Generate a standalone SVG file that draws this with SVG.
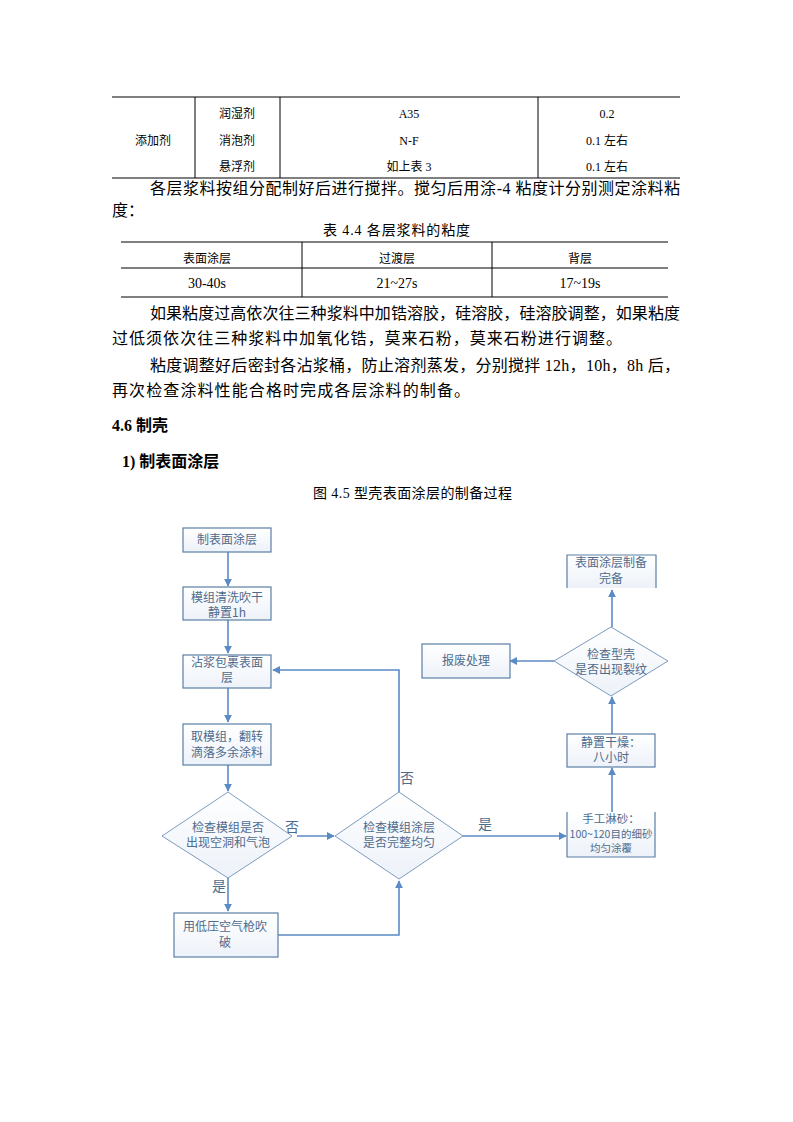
<svg xmlns="http://www.w3.org/2000/svg" width="793" height="1122" viewBox="0 0 793 1122">
<style>
.t{font-family:"Liberation Serif","Noto Sans CJK SC",serif;fill:#000}
.s12{font-size:12px}
.s14{font-size:14px}
.s16{font-size:16px}
.b{font-weight:bold}
.rule{stroke:#000;stroke-width:1;fill:none}
.box{fill:url(#g);stroke:#5a7fa6;stroke-width:1.2}
.dia{fill:url(#g);stroke:#7c9bbf;stroke-width:1}
.ft{font-family:"Noto Sans CJK SC","Noto Sans CJK JP",sans-serif;font-size:12px;fill:#4f6b8c;text-anchor:middle}
.lbl{font-family:"Noto Sans CJK SC",sans-serif;font-size:14px;fill:#4f6b8c;text-anchor:middle}
.con{stroke:#5b8bc5;stroke-width:1.6;fill:none}
</style>
<defs>
<linearGradient id="g" x1="0" y1="0" x2="0" y2="1">
<stop offset="0" stop-color="#ffffff"/>
<stop offset="1" stop-color="#edf2f9"/>
</linearGradient>
<marker id="ar" viewBox="0 0 10 10" refX="9" refY="5" markerWidth="5" markerHeight="5" orient="auto" markerUnits="strokeWidth">
<path d="M0,0 L10,5 L0,10 z" fill="#5b8bc5"/>
</marker>
</defs>
<rect width="793" height="1122" fill="#fff"/>

<!-- Top table -->
<g id="table1">
<line class="rule" x1="112" y1="97" x2="680" y2="97"/>
<line class="rule" x1="112" y1="178" x2="680" y2="178"/>
<line class="rule" x1="195" y1="97" x2="195" y2="178"/>
<line class="rule" x1="280" y1="97" x2="280" y2="178"/>
<line class="rule" x1="538" y1="97" x2="538" y2="178"/>
<g class="t s12" text-anchor="middle">
<text x="153" y="145">添加剂</text>
<text x="237" y="118">润湿剂</text>
<text x="237" y="145">消泡剂</text>
<text x="237" y="171">悬浮剂</text>
<text x="409" y="118">A35</text>
<text x="409" y="145">N-F</text>
<text x="409" y="171">如上表 3</text>
<text x="607" y="118">0.2</text>
<text x="607" y="145">0.1 左右</text>
<text x="607" y="171">0.1 左右</text>
</g>
</g>

<g id="para1" class="t s16">
<text x="150" y="194" textLength="530" lengthAdjust="spacing">各层浆料按组分配制好后进行搅拌。搅匀后用涂-4 粘度计分别测定涂料粘</text>
<text x="112" y="216">度：</text>
</g>

<text class="t s14" x="323" y="235" textLength="147" lengthAdjust="spacing">表 4.4  各层浆料的粘度</text>

<g id="table2">
<line class="rule" x1="121" y1="242" x2="668" y2="242"/>
<line class="rule" x1="121" y1="268" x2="668" y2="268"/>
<line class="rule" x1="121" y1="297" x2="668" y2="297"/>
<line class="rule" x1="302" y1="242" x2="302" y2="297"/>
<line class="rule" x1="492" y1="242" x2="492" y2="297"/>
<g class="t" text-anchor="middle">
<text class="s12" x="207" y="263">表面涂层</text>
<text class="s12" x="397" y="263">过渡层</text>
<text class="s12" x="580" y="263">背层</text>
<text class="s14" x="207" y="288">30-40s</text>
<text class="s14" x="397" y="288">21~27s</text>
<text class="s14" x="580" y="288">17~19s</text>
</g>
</g>

<g id="para2" class="t s16">
<text x="150" y="319" textLength="530" lengthAdjust="spacing">如果粘度过高依次往三种浆料中加锆溶胶，硅溶胶，硅溶胶调整，如果粘度</text>
<text x="112" y="344" textLength="510" lengthAdjust="spacing">过低须依次往三种浆料中加氧化锆，莫来石粉，莫来石粉进行调整。</text>
<text x="150" y="371" textLength="530" lengthAdjust="spacing">粘度调整好后密封各沾浆桶，防止溶剂蒸发，分别搅拌 12h，10h，8h 后，</text>
<text x="112" y="396" textLength="358" lengthAdjust="spacing">再次检查涂料性能合格时完成各层涂料的制备。</text>
<text class="b" x="112" y="431">4.6 制壳</text>
<text class="b" x="122" y="467">1) 制表面涂层</text>
</g>

<text class="t s14" x="313" y="498" textLength="199" lengthAdjust="spacing">图 4.5  型壳表面涂层的制备过程</text>

<!-- Connectors -->
<g id="connectors">
<line class="con" x1="228" y1="552" x2="228" y2="586" marker-end="url(#ar)"/>
<line class="con" x1="228" y1="620" x2="228" y2="653" marker-end="url(#ar)"/>
<line class="con" x1="228" y1="688" x2="228" y2="722" marker-end="url(#ar)"/>
<line class="con" x1="228" y1="765" x2="228" y2="791" marker-end="url(#ar)"/>
<line class="con" x1="297" y1="836" x2="334" y2="836" marker-end="url(#ar)" stroke="#a9c2e0"/>
<line class="con" x1="228" y1="878" x2="228" y2="911" marker-end="url(#ar)"/>
<polyline class="con" points="278,935 399,935 399,881" marker-end="url(#ar)"/>
<polyline class="con" points="399,792 399,670 273,670" marker-end="url(#ar)"/>
<line class="con" x1="463" y1="836" x2="566" y2="836" marker-end="url(#ar)" stroke="#a9c2e0"/>
<line class="con" x1="612" y1="812" x2="612" y2="768" marker-end="url(#ar)"/>
<line class="con" x1="612" y1="734" x2="612" y2="697" marker-end="url(#ar)"/>
<line class="con" x1="554" y1="661" x2="510" y2="661" marker-end="url(#ar)"/>
<line class="con" x1="612" y1="627" x2="612" y2="590" marker-end="url(#ar)"/>
<text class="lbl" x="292" y="832">否</text>
<text class="lbl" x="219" y="891">是</text>
<text class="lbl" x="407" y="783">否</text>
<text class="lbl" x="485" y="829">是</text>
</g>

<g id="n1"><rect class="box" x="183" y="528" width="88" height="24"/><text class="ft" x="227" y="544">制表面涂层</text></g>
<g id="n2"><rect class="box" x="183" y="587" width="88" height="33"/><text class="ft" x="227" y="602">模组清洗吹干</text><text class="ft" x="227" y="617">静置1h</text></g>
<g id="n3"><rect class="box" x="183" y="655" width="88" height="33"/><text class="ft" x="227" y="667">沾浆包裹表面</text><text class="ft" x="227" y="682">层</text></g>
<g id="n4"><rect class="box" x="183" y="724" width="88" height="41"/><text class="ft" x="227" y="741">取模组，翻转</text><text class="ft" x="227" y="757">滴落多余涂料</text></g>
<g id="n5"><polygon class="dia" points="228,792 292,836 228,878 162,836"/><text class="ft" x="228" y="832">检查模组是否</text><text class="ft" x="228" y="847">出现空洞和气泡</text></g>
<g id="n6"><rect class="box" x="174" y="913" width="104" height="44"/><text class="ft" x="225" y="931">用低压空气枪吹</text><text class="ft" x="225" y="947">破</text></g>
<g id="n7"><polygon class="dia" points="399,792 463,836 399,879 335,836"/><text class="ft" x="399" y="832">检查模组涂层</text><text class="ft" x="399" y="847">是否完整均匀</text></g>
<g id="n8"><rect x="567" y="812" width="88" height="45" fill="url(#g)"/><polyline class="box" fill="none" points="567,812 567,857 655,857 655,812"/><text class="ft" x="611" y="823" style="font-size:11.5px">手工淋砂：</text><text class="ft" x="611" y="838" style="font-size:10.5px">100~120目的细砂</text><text class="ft" x="611" y="852" style="font-size:10.5px">均匀涂覆</text></g>
<g id="n9"><rect class="box" x="567" y="734" width="88" height="33"/><text class="ft" x="611" y="747">静置干燥：</text><text class="ft" x="611" y="762">八小时</text></g>
<g id="n10"><polygon class="dia" points="611,627 668,661 611,696 554,661"/><text class="ft" x="611" y="659">检查型壳</text><text class="ft" x="611" y="674">是否出现裂纹</text></g>
<g id="n11"><rect class="box" x="422" y="644" width="88" height="34"/><text class="ft" x="466" y="665">报废处理</text></g>
<g id="n12"><rect x="567" y="555" width="89" height="33" fill="url(#g)"/><polyline class="box" fill="none" points="567,588 567,555 656,555 656,588"/><text class="ft" x="611" y="567">表面涂层制备</text><text class="ft" x="611" y="583">完备</text></g>
</svg>
